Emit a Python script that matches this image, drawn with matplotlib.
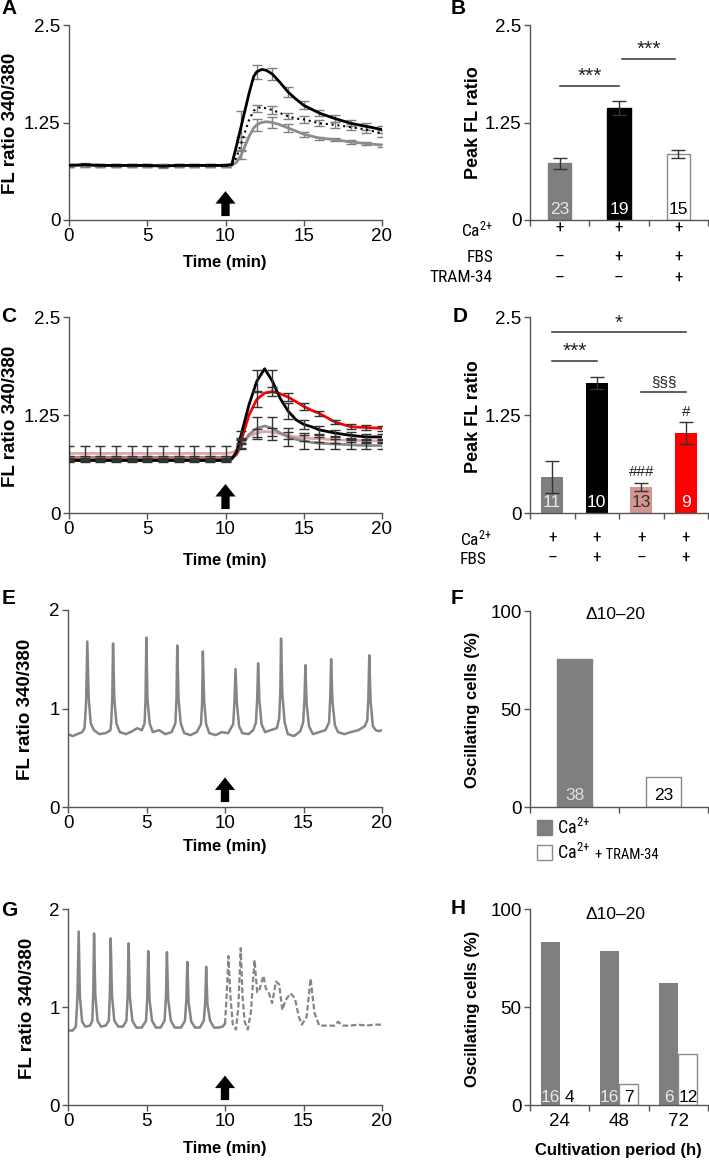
"""Ca2+ imaging figure: FL ratio traces, peak ratios and oscillating cell counts."""

import matplotlib

matplotlib.use("Agg")
import matplotlib.pyplot as plt
from matplotlib.patches import Rectangle
from matplotlib.transforms import blended_transform_factory

plt.rcParams["font.family"] = ["Liberation Sans", "DejaVu Sans"]
plt.rcParams["mathtext.fontset"] = "custom"
plt.rcParams["mathtext.rm"] = "Liberation Sans"
plt.rcParams["mathtext.default"] = "regular"

# ---------------- data ----------------
ERR_TIME = [0, 1, 2, 3, 4, 5, 6, 7, 8, 9, 10, 11, 12, 13, 14, 15, 16, 17, 18, 19, 20]

# panel A: mean traces
A_TIME = [0, 1, 2, 3, 4, 5, 6, 7, 8, 9, 10, 10.4, 10.7, 11, 11.5, 11.8, 12, 12.3, 12.6,
          13, 13.5, 14, 14.5, 15, 16, 17, 18, 19, 20]
A_FBS = [0.70, 0.71, 0.70, 0.70, 0.70, 0.70, 0.69, 0.70, 0.70, 0.70, 0.70, 0.71, 0.95, 1.20,
         1.62, 1.84, 1.90, 1.93, 1.92, 1.87, 1.76, 1.64, 1.55, 1.47, 1.37, 1.30, 1.24, 1.20, 1.16]
A_TRAM = [0.70, 0.70, 0.70, 0.70, 0.70, 0.70, 0.70, 0.70, 0.70, 0.70, 0.70, 0.70, 0.80, 0.98,
          1.28, 1.40, 1.43, 1.45, 1.43, 1.41, 1.37, 1.33, 1.30, 1.29, 1.24, 1.22, 1.19, 1.16, 1.11]
A_CA = [0.70, 0.70, 0.70, 0.70, 0.70, 0.70, 0.70, 0.70, 0.70, 0.70, 0.70, 0.70, 0.74, 0.83,
        1.07, 1.18, 1.22, 1.25, 1.26, 1.25, 1.22, 1.18, 1.14, 1.10, 1.05, 1.03, 1.00, 0.98, 0.96]
A_FBS_SEM = [0.02] * 11 + [0.20, 0.09, 0.08, 0.06, 0.05, 0.04, 0.04, 0.04, 0.04, 0.04]
A_TRAM_SEM = [0.02] * 11 + [0.08, 0.05, 0.05, 0.04, 0.04, 0.04, 0.04, 0.04, 0.04, 0.04]
A_CA_SEM = [0.02] * 11 + [0.05, 0.08, 0.07, 0.05, 0.03, 0.02, 0.02, 0.02, 0.02, 0.02]

# panel B: peak ratio
B_PEAK = [0.73, 1.44, 0.85]
B_SEM = [0.07, 0.09, 0.05]
B_N = ["23", "19", "15"]
B_CA = ["+", "+", "+"]
B_FBS = ["–", "+", "+"]
B_TRAM = ["–", "–", "+"]

# panel C: mean traces
C_TIME = [0, 1, 2, 3, 4, 5, 6, 7, 8, 9, 10, 10.4, 10.7, 11, 11.5, 12, 12.5, 13, 13.5, 14,
          14.5, 15, 15.5, 16, 17, 18, 19, 20]
C_BLACK = [0.67] * 11 + [0.69, 0.78, 1.00, 1.38, 1.68, 1.84, 1.68, 1.46, 1.30, 1.19, 1.13,
                         1.10, 1.06, 1.02, 0.99, 0.97, 0.97]
C_RED = [0.68] * 11 + [0.69, 0.76, 0.92, 1.25, 1.45, 1.53, 1.55, 1.52, 1.48, 1.42, 1.36,
                       1.31, 1.27, 1.16, 1.10, 1.09, 1.08]
C_GREY = [0.71] * 11 + [0.71, 0.74, 0.85, 1.00, 1.08, 1.11, 1.08, 1.02, 0.97, 0.94, 0.92,
                        0.90, 0.89, 0.88, 0.87, 0.86, 0.86]
C_PINK = [0.76] * 11 + [0.77, 0.80, 0.88, 0.98, 1.02, 1.04, 1.03, 1.01, 0.99, 0.97, 0.96,
                        0.95, 0.95, 0.93, 0.93, 0.92, 0.92]
C_BLACK_SEM = [0.02] * 11 + [0.05, 0.14, 0.14, 0.10, 0.06, 0.05, 0.04, 0.04, 0.04, 0.04]
C_RED_SEM = [0.02] * 11 + [0.04, 0.10, 0.06, 0.05, 0.04, 0.03, 0.03, 0.03, 0.03, 0.03]
C_GREY_SEM = [0.02] * 11 + [0.04, 0.14, 0.15, 0.12, 0.10, 0.08, 0.06, 0.06, 0.05, 0.05]
C_PINK_SEM = [0.09] * 11 + [0.05, 0.05, 0.05, 0.04, 0.04, 0.04, 0.04, 0.03, 0.03, 0.03]

# panel D: peak ratio
D_PEAK = [0.46, 1.66, 0.33, 1.02]
D_SEM = [0.20, 0.08, 0.05, 0.14]
D_N = ["11", "10", "13", "9"]
D_CA = ["+", "+", "+", "+"]
D_FBS = ["–", "+", "–", "+"]

# panel E: single cell trace
E_TIME = [0, 0.3, 0.6, 0.9, 1.05, 1.15, 1.23, 1.32, 1.45, 1.65, 2.0, 2.4, 2.7,
          2.75, 2.82, 2.87, 2.95, 3.08, 3.3, 3.7, 4.1, 4.4, 4.7,
          4.88, 4.94, 4.99, 5.06, 5.2, 5.4, 5.8, 6.2, 6.6,
          6.84, 6.91, 6.96, 7.04, 7.18, 7.4, 7.8, 8.2,
          8.47, 8.54, 8.59, 8.67, 8.8, 9.0, 9.4, 9.8, 10.2,
          10.52, 10.6, 10.67, 10.76, 10.9, 11.1, 11.5, 11.8,
          11.97, 12.05, 12.11, 12.19, 12.33, 12.55, 12.9, 13.3,
          13.45, 13.52, 13.57, 13.65, 13.8, 14.0, 14.4, 14.8,
          14.98, 15.06, 15.12, 15.2, 15.35, 15.6, 16.0, 16.4,
          16.63, 16.7, 16.76, 16.84, 17.0, 17.2, 17.6, 18.0, 18.5, 18.9,
          19.06, 19.13, 19.19, 19.27, 19.42, 19.6, 19.8, 20.0]
E_RATIO = [0.74, 0.72, 0.74, 0.76, 0.80, 1.05, 1.68, 1.10, 0.85, 0.78, 0.74, 0.75, 0.78,
           0.85, 1.10, 1.66, 1.10, 0.85, 0.76, 0.74, 0.77, 0.80, 0.78,
           0.85, 1.10, 1.72, 1.10, 0.85, 0.76, 0.78, 0.74, 0.76,
           0.85, 1.10, 1.64, 1.10, 0.85, 0.75, 0.73, 0.76,
           0.84, 1.05, 1.58, 1.08, 0.84, 0.75, 0.73, 0.76, 0.75,
           0.84, 1.05, 1.40, 1.05, 0.82, 0.75, 0.74, 0.78,
           0.86, 1.10, 1.46, 1.08, 0.84, 0.76, 0.78, 0.80,
           0.90, 1.15, 1.71, 1.15, 0.86, 0.74, 0.72, 0.77,
           0.86, 1.08, 1.44, 1.05, 0.82, 0.74, 0.76, 0.78,
           0.86, 1.10, 1.50, 1.08, 0.83, 0.76, 0.74, 0.76, 0.78, 0.82,
           0.88, 1.10, 1.54, 1.08, 0.82, 0.78, 0.77, 0.78]

# panel F: oscillating cells
F_PCT = [75.5, 15.3]
F_N = ["38", "23"]

# panel G: single cell trace, before (solid) and after (dashed) Ca2+ addition
G_TIME_PRE = [0, 0.3, 0.5, 0.6, 0.68, 0.76, 0.9, 1.1, 1.4, 1.55, 1.61, 1.66, 1.74, 1.88,
              2.1, 2.4, 2.6, 2.67, 2.72, 2.8, 2.95, 3.2, 3.5, 3.72, 3.8, 3.86, 3.94, 4.1,
              4.35, 4.7, 4.97, 5.05, 5.11, 5.19, 5.35, 5.6, 5.9, 6.15, 6.24, 6.30, 6.38,
              6.55, 6.8, 7.2, 7.45, 7.54, 7.60, 7.68, 7.85, 8.1, 8.4, 8.65, 8.74, 8.80,
              8.88, 9.05, 9.3, 9.6, 9.85, 10.0]
G_RATIO_PRE = [0.76, 0.76, 0.80, 1.10, 1.77, 1.10, 0.85, 0.80, 0.81, 0.86, 1.15, 1.75, 1.12,
               0.86, 0.80, 0.81, 0.86, 1.15, 1.70, 1.12, 0.86, 0.80, 0.80, 0.86, 1.12, 1.65,
               1.10, 0.86, 0.79, 0.79, 0.86, 1.10, 1.57, 1.08, 0.86, 0.79, 0.79, 0.86, 1.10,
               1.56, 1.08, 0.86, 0.79, 0.79, 0.86, 1.08, 1.46, 1.05, 0.85, 0.79, 0.79, 0.86,
               1.05, 1.41, 1.03, 0.86, 0.79, 0.79, 0.80, 0.83]
G_TIME_POST = [10.0, 10.1, 10.22, 10.35, 10.5, 10.7, 10.85, 11.0, 11.12, 11.25, 11.45, 11.65,
               11.88, 12.05, 12.2, 12.45, 12.6, 12.8, 13.0, 13.25, 13.45, 13.65, 13.86, 14.17,
               14.45, 14.7, 14.9, 15.2, 15.45, 15.7, 16.0, 16.5, 17.0, 17.2, 17.5, 18.0, 18.5,
               19.0, 19.5, 20.0]
G_RATIO_POST = [0.83, 1.10, 1.52, 1.10, 0.82, 0.77, 1.00, 1.60, 1.10, 0.85, 0.77, 0.95, 1.48,
                1.15, 1.18, 1.32, 1.19, 1.14, 1.04, 1.26, 1.23, 0.97, 1.07, 1.14, 1.09, 0.90,
                0.82, 0.90, 1.29, 0.94, 0.81, 0.81, 0.81, 0.85, 0.81, 0.81, 0.82, 0.81, 0.82,
                0.82]

# panel H: oscillating cells vs cultivation period
H_PERIOD = ["24", "48", "72"]
H_CA = [83.0, 78.6, 62.2]
H_TRAM = [0.0, 10.7, 26.0]
H_N_CA = ["16", "16", "6"]
H_N_TRAM = ["4", "7", "12"]

# ---------------- styling ----------------
W, H = 709, 1160
AXIS_GREY = "#555555"
BAR_GREY = "#7f7f7f"
PINK = "#d59590"
LINE_PINK = "#e3a5a5"
RED = "#ff0000"
TICK_SIZE = 13.5
NARROW = ["Roboto Condensed", "Liberation Sans Narrow", "Liberation Sans", "DejaVu Sans"]
TABLE_SIZE = 12.5
CA_LABEL = "Ca$^{2{+}}$"

fig = plt.figure(figsize=(W / 100, H / 100), dpi=100)


def box(left, top, right, bottom):
    """Pixel box (from top-left) to figure fraction rect."""
    return [left / W, 1 - bottom / H, (right - left) / W, (bottom - top) / H]


def fig_text(x, y, s, **kw):
    fig.text(x / W, 1 - y / H, s, **kw)


def style_axes(ax):
    for side in ("top", "right"):
        ax.spines[side].set_visible(False)
    for side in ("left", "bottom"):
        ax.spines[side].set_color(AXIS_GREY)
        ax.spines[side].set_linewidth(1.0)
    ax.tick_params(direction="out", length=4, width=1, color=AXIS_GREY,
                   labelsize=TICK_SIZE, pad=2)


def add_arrow(ax, y0, y1):
    ax.annotate("", xy=(10, y1), xytext=(10, y0),
                arrowprops=dict(arrowstyle="simple,head_length=0.9,head_width=1.45,tail_width=0.6",
                                color="black", lw=0, shrinkA=0, shrinkB=0))


def trace_axes(rect, ymax, yticks, yticklabels):
    ax = fig.add_axes(rect)
    style_axes(ax)
    ax.set_xlim(0, 20)
    ax.set_ylim(0, ymax)
    ax.set_xticks([0, 5, 10, 15, 20])
    ax.set_yticks(yticks)
    ax.set_yticklabels(yticklabels)
    return ax


def at_err_times(times, values):
    return [values[times.index(t)] for t in ERR_TIME]


def bar_axes(rect, ncat, ymax, yticks, yticklabels):
    ax = fig.add_axes(rect)
    style_axes(ax)
    ax.set_xlim(0, ncat)
    ax.set_ylim(0, ymax)
    ax.set_xticks(range(ncat + 1))
    ax.set_xticklabels([])
    ax.set_yticks(yticks)
    ax.set_yticklabels(yticklabels)
    return ax


def sig_bar(ax, x0, x1, y, label, ty, size=15):
    ax.plot([x0, x1], [y, y], color="#333333", lw=1.1, clip_on=False)
    ax.text((x0 + x1) / 2, ty, label, ha="center", va="center", fontsize=size, color="#222222")


# ---------------- A ----------------
axA = trace_axes(box(69, 25, 382, 220), 2.5, [0, 1.25, 2.5], ["0", "1.25", "2.5"])
for vals, sem in ((A_CA, A_CA_SEM), (A_TRAM, A_TRAM_SEM), (A_FBS, A_FBS_SEM)):
    axA.errorbar(ERR_TIME, at_err_times(A_TIME, vals), yerr=sem, fmt="none",
                 ecolor="#808080", elinewidth=1, capsize=3.5, capthick=1, zorder=2)
axA.plot(A_TIME, A_CA, color="#8c8c8c", lw=2, zorder=3)
axA.plot(A_TIME, A_TRAM, color="black", lw=1.5, ls=(0, (1, 1.8)), zorder=3)
axA.plot(A_TIME, A_FBS, color="black", lw=2, zorder=4)
add_arrow(axA, 0.05, 0.37)

# ---------------- B ----------------
axB = bar_axes(box(530, 25, 708, 220), 3, 2.5, [0, 1.25, 2.5], ["0", "1.25", "2.5"])
xb = [0.5, 1.5, 2.5]
axB.bar(xb, B_PEAK, width=0.39, color=[BAR_GREY, "black", "white"],
        edgecolor=[BAR_GREY, "black", "#8a8a8a"], linewidth=1, zorder=2)
axB.errorbar(xb, B_PEAK, yerr=B_SEM, fmt="none", ecolor="#333333", elinewidth=1,
             capsize=5, capthick=1, zorder=3)
for x, n, c in zip(xb, B_N, ["#e8e8e8", "white", "black"]):
    axB.text(x, 0.13, n, ha="center", va="center", fontsize=12.5, color=c, zorder=4)
sig_bar(axB, 0.5, 1.5, 1.72, "***", 1.84)
sig_bar(axB, 1.55, 2.45, 2.07, "***", 2.19)
tB = blended_transform_factory(axB.transData, axB.transAxes)
for row_y, row in ((-0.041, B_CA), (-0.19, B_FBS), (-0.297, B_TRAM)):
    for x, s in zip(xb, row):
        axB.text(x, row_y, s, transform=tB, ha="center", va="center", fontsize=TABLE_SIZE,
                 family=NARROW)
fig_text(493, 229, CA_LABEL, ha="right", va="center", fontsize=TABLE_SIZE, family=NARROW)
fig_text(493, 257, "FBS", ha="right", va="center", fontsize=TABLE_SIZE, family=NARROW)
fig_text(493, 278, "TRAM-34", ha="right", va="center", fontsize=TABLE_SIZE, family=NARROW)

# ---------------- C ----------------
axC = trace_axes(box(69, 317, 382, 513), 2.5, [0, 1.25, 2.5], ["0", "1.25", "2.5"])
axC.plot(C_TIME, C_PINK, color=LINE_PINK, lw=2, zorder=2)
axC.plot(C_TIME, C_GREY, color="#8c8c8c", lw=2, zorder=2)
axC.plot(C_TIME, C_RED, color=RED, lw=2, zorder=2)
axC.plot(C_TIME, C_BLACK, color="black", lw=2, zorder=2)
for vals, sem in ((C_PINK, C_PINK_SEM), (C_GREY, C_GREY_SEM), (C_RED, C_RED_SEM),
                  (C_BLACK, C_BLACK_SEM)):
    axC.errorbar(ERR_TIME, at_err_times(C_TIME, vals), yerr=sem, fmt="none",
                 ecolor="#333333", elinewidth=1, capsize=3.5, capthick=1, zorder=3)
add_arrow(axC, 0.05, 0.37)

# ---------------- D ----------------
axD = bar_axes(box(530, 317, 708, 513), 4, 2.5, [0, 1.25, 2.5], ["0", "1.25", "2.5"])
xd = [0.5, 1.5, 2.5, 3.5]
axD.bar(xd, D_PEAK, width=0.5, color=[BAR_GREY, "black", PINK, RED], linewidth=0, zorder=2)
axD.errorbar(xd, D_PEAK, yerr=D_SEM, fmt="none", ecolor="#333333", elinewidth=1,
             capsize=5, capthick=1, zorder=3)
for x, n, c in zip(xd, D_N, ["#e8e8e8", "white", "#333333", "white"]):
    axD.text(x, 0.13, n, ha="center", va="center", fontsize=12.5, color=c, zorder=4)
sig_bar(axD, 0.5, 3.5, 2.31, "*", 2.42)
sig_bar(axD, 0.5, 1.5, 1.94, "***", 2.06)
sig_bar(axD, 2.5, 3.5, 1.54, "§§§", 1.67, size=11)
axD.text(3.5, 1.29, "#", ha="center", va="center", fontsize=11, color="#222222")
axD.text(2.5, 0.52, "###", ha="center", va="center", fontsize=11, color="#222222")
tD = blended_transform_factory(axD.transData, axD.transAxes)
for row_y, row in ((-0.128, D_CA), (-0.23, D_FBS)):
    for x, s in zip(xd, row):
        axD.text(x, row_y, s, transform=tD, ha="center", va="center", fontsize=TABLE_SIZE,
                 family=NARROW)
fig_text(460, 538, CA_LABEL, ha="left", va="center", fontsize=TABLE_SIZE, family=NARROW)
fig_text(460, 559, "FBS", ha="left", va="center", fontsize=TABLE_SIZE, family=NARROW)

# ---------------- E ----------------
axE = trace_axes(box(68, 610, 382, 807), 2, [0, 1, 2], ["0", "1", "2"])
axE.plot(E_TIME, E_RATIO, color="#858585", lw=1.8)
add_arrow(axE, 0.05, 0.3)

# ---------------- F ----------------
axF = bar_axes(box(530, 611, 708, 807), 2, 100, [0, 50, 100], ["0", "50", "100"])
xf = [0.5, 1.5]
axF.bar(xf, F_PCT, width=0.4, color=[BAR_GREY, "white"], edgecolor=[BAR_GREY, "#8a8a8a"],
        linewidth=1, zorder=2)
for x, n, c in zip(xf, F_N, ["#e0e0e0", "black"]):
    axF.text(x, 6.1, n, ha="center", va="center", fontsize=12.5, color=c, zorder=4)
axF.text(0.48, 0.98, "Δ10–20", transform=axF.transAxes, ha="center", va="center",
         fontsize=12.5)
fig.add_artist(Rectangle((537 / W, 1 - 835 / H), 15 / W, 15 / H, transform=fig.transFigure,
                         facecolor=BAR_GREY, edgecolor=BAR_GREY, lw=1))
fig.add_artist(Rectangle((537 / W, 1 - 860 / H), 15 / W, 15 / H, transform=fig.transFigure,
                         facecolor="white", edgecolor="#8a8a8a", lw=1))
fig_text(557, 828, CA_LABEL, ha="left", va="center", fontsize=13, family=NARROW)
fig_text(557, 853, CA_LABEL, ha="left", va="center", fontsize=13, family=NARROW)
fig_text(595, 855, "+ TRAM-34", ha="left", va="center", fontsize=10.5, family=NARROW)

# ---------------- G ----------------
axG = trace_axes(box(68, 909, 382, 1105), 2, [0, 1, 2], ["0", "1", "2"])
axG.plot(G_TIME_PRE, G_RATIO_PRE, color="#858585", lw=1.8)
axG.plot(G_TIME_POST, G_RATIO_POST, color="#858585", lw=1.6, ls=(0, (2.5, 1.2)))
add_arrow(axG, 0.05, 0.3)

# ---------------- H ----------------
axH = bar_axes(box(530, 909, 708, 1105), 3, 100, [0, 50, 100], ["0", "50", "100"])
xh = [0.5, 1.5, 2.5]
xh_ca = [x - 0.16 for x in xh]
xh_tram = [x + 0.16 for x in xh]
axH.bar(xh_ca, H_CA, width=0.32, color=BAR_GREY, linewidth=0, zorder=2)
axH.bar(xh_tram, H_TRAM, width=0.32, color="white", edgecolor="#8a8a8a", linewidth=1, zorder=2)
for x, n in zip(xh_ca, H_N_CA):
    axH.text(x, 3.8, n, ha="center", va="center", fontsize=12.5, color="#e8e8e8", zorder=4)
for x, n in zip(xh_tram, H_N_TRAM):
    axH.text(x, 3.8, n, ha="center", va="center", fontsize=12.5, color="black", zorder=4)
axH.set_xticks(xh, minor=True)
axH.set_xticklabels(H_PERIOD, minor=True)
axH.tick_params(axis="x", which="minor", length=0, pad=6, labelsize=TICK_SIZE)
axH.text(0.48, 0.97, "Δ10–20", transform=axH.transAxes, ha="center", va="center",
         fontsize=12.5)

# ---------------- labels ----------------
for y in (263, 560, 847, 1148):
    fig_text(225, y, "Time (min)", ha="center", va="center", fontsize=12, fontweight="bold")
fig_text(618, 1150, "Cultivation period (h)", ha="center", va="center", fontsize=12,
         fontweight="bold")
for x, y in ((11, 123), (11, 416), (26, 709), (28, 1008)):
    fig_text(x, y, "FL ratio 340/380", ha="center", va="center", rotation=90,
             fontsize=13.5, fontweight="bold")
for y, s, size in ((123, "Peak FL ratio", 13), (417, "Peak FL ratio", 13),
                   (710, "Oscillating cells (%)", 12), (1009, "Oscillating cells (%)", 12)):
    fig_text(473, y, s, ha="center", va="center", rotation=90, fontsize=size,
             fontweight="bold")
for x, y, s in ((9, 9, "A"), (458, 9, "B"), (9, 317, "C"), (460, 317, "D"),
                (9, 599, "E"), (457, 599, "F"), (9, 910, "G"), (458, 909, "H")):
    fig_text(x, y, s, ha="center", va="center", fontsize=15, fontweight="bold")

fig.savefig("out.png", dpi=100)
